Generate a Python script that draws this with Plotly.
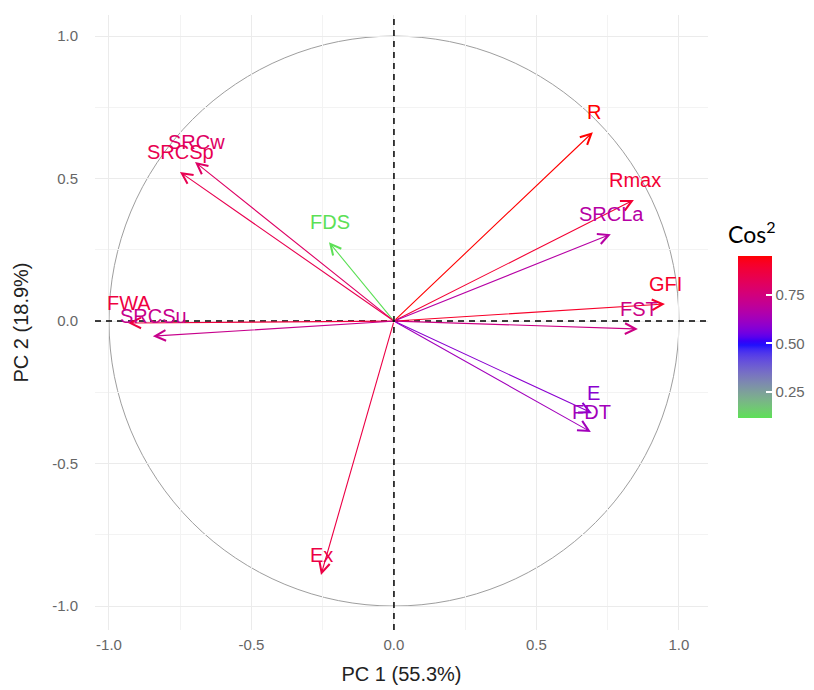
import plotly.graph_objects as go
import numpy as np

# ---- data ----
variables = ["R", "Rmax", "SRCLa", "GFI", "FST", "E", "FDT", "Ex", "FDS", "SRCw", "SRCSp", "FWA", "SRCSu"]
pc1 = [0.698, 0.842, 0.761, 0.951, 0.856, 0.695, 0.691, -0.256, -0.228, -0.698, -0.751, -0.933, -0.846]
pc2 = [0.663, 0.425, 0.305, 0.060, -0.028, -0.323, -0.389, -0.891, 0.277, 0.558, 0.523, -0.007, -0.053]
cos2 = [0.952, 0.890, 0.672, 0.908, 0.734, 0.587, 0.628, 0.859, 0.114, 0.798, 0.838, 0.870, 0.719]
pc1_label = "PC 1 (55.3%)"
pc2_label = "PC 2 (18.9%)"
axis_ticks = [-1.0, -0.5, 0.0, 0.5, 1.0]
axis_ticktext = ["-1.0", "-0.5", "0.0", "0.5", "1.0"]
cbar_ticks = [0.25, 0.50, 0.75]

# ---- colour helpers: ggplot-like gradient2 (Lab interpolation) ----
def hex2rgb(h):
    h = h.lstrip("#")
    return [int(h[i:i + 2], 16) / 255 for i in (0, 2, 4)]

def srgb2lin(c):
    return c / 12.92 if c <= 0.04045 else ((c + 0.055) / 1.055) ** 2.4

def lin2srgb(c):
    c = max(0.0, min(1.0, c))
    return 12.92 * c if c <= 0.0031308 else 1.055 * c ** (1 / 2.4) - 0.055

WHITE = (0.95047, 1.0, 1.08883)

def rgb2lab(rgb):
    r, g, b = [srgb2lin(c) for c in rgb]
    X = 0.4124564 * r + 0.3575761 * g + 0.1804375 * b
    Y = 0.2126729 * r + 0.7151522 * g + 0.0721750 * b
    Z = 0.0193339 * r + 0.1191920 * g + 0.9503041 * b
    def f(t):
        return t ** (1 / 3) if t > 216 / 24389 else (24389 / 27 * t + 16) / 116
    fx, fy, fz = f(X / WHITE[0]), f(Y / WHITE[1]), f(Z / WHITE[2])
    return (116 * fy - 16, 500 * (fx - fy), 200 * (fy - fz))

def lab2rgb(lab):
    L, a, b = lab
    fy = (L + 16) / 116
    fx = fy + a / 500
    fz = fy - b / 200
    def finv(t):
        return t ** 3 if t ** 3 > 216 / 24389 else (116 * t - 16) / (24389 / 27)
    X, Y, Z = finv(fx) * WHITE[0], finv(fy) * WHITE[1], finv(fz) * WHITE[2]
    r = 3.2404542 * X - 1.5371385 * Y - 0.4985314 * Z
    g = -0.9692660 * X + 1.8760108 * Y + 0.0415560 * Z
    bb = 0.0556434 * X - 0.2040259 * Y + 1.0572252 * Z
    return [lin2srgb(c) for c in (r, g, bb)]

LOW, MID, HIGH = rgb2lab(hex2rgb("#00FF00")), rgb2lab(hex2rgb("#0000FF")), rgb2lab(hex2rgb("#FF0000"))
vmin, vmax, vmid = min(cos2), max(cos2), 0.5
half = max(abs(vmax - vmid), abs(vmin - vmid))

def colour_of(v):
    t = (v - vmid) / half / 2 + 0.5
    if t <= 0.5:
        s = t / 0.5
        lab = [LOW[i] + (MID[i] - LOW[i]) * s for i in range(3)]
    else:
        s = (t - 0.5) / 0.5
        lab = [MID[i] + (HIGH[i] - MID[i]) * s for i in range(3)]
    r, g, b = lab2rgb(lab)
    return "rgb(%d,%d,%d)" % (round(r * 255), round(g * 255), round(b * 255))

colours = [colour_of(v) for v in cos2]
stops = np.linspace(0, 1, 41)
colorscale = [[float(s), colour_of(vmin + s * (vmax - vmin))] for s in stops]

# ---- layout geometry ----
L, R_, T, B = 95, 106, 15, 60
W, H = 814, 690
PW, PH = W - L - R_, H - T - B
def px2paper_x(px):
    return (px - L) / PW
def px2paper_y(py):
    return (H - B - py) / PH

fig = go.Figure()

# colourbar carrier trace (invisible markers)
fig.add_trace(go.Scatter(
    x=pc1, y=pc2, mode="markers",
    marker=dict(size=0.1, opacity=0, color=cos2, colorscale=colorscale,
                cmin=vmin, cmax=vmax, showscale=True,
                colorbar=dict(
                    x=px2paper_x(738), xanchor="left", xpad=0, ypad=0,
                    y=px2paper_y(337), yanchor="middle",
                    lenmode="pixels", len=162, thickness=34,
                    outlinewidth=0,
                    tickvals=cbar_ticks, ticktext=["%.2f" % v for v in cbar_ticks],
                    ticks="inside", ticklen=6, tickcolor="white", tickwidth=1.5,
                    tickfont=dict(family="Liberation Sans, Arial", size=15, color="#666666"),
                )),
    hoverinfo="skip", showlegend=False))

annotations = []
for name, x, y, c in zip(variables, pc1, pc2, colours):
    annotations.append(dict(
        x=x, y=y, ax=0, ay=0, xref="x", yref="y", axref="x", ayref="y",
        text="", showarrow=True, arrowhead=5, arrowsize=1.9, arrowwidth=1.1,
        arrowcolor=c, standoff=0))
    annotations.append(dict(
        x=x, y=y, xref="x", yref="y", text=name, showarrow=False,
        yshift=20, xshift=1, xanchor="center", yanchor="middle",
        font=dict(family="Liberation Sans, Arial", size=20, color=c)))

annotations.append(dict(
    x=px2paper_x(726), y=px2paper_y(232), xref="paper", yref="paper",
    text="Cos<sup>2</sup>", showarrow=False, xanchor="left", yanchor="middle",
    font=dict(family="Lato, Open Sans", size=23, color="black")))

shapes = [
    dict(type="circle", xref="x", yref="y", x0=-1, y0=-1, x1=1, y1=1,
         line=dict(color="#9e9e9e", width=1), layer="below"),
    dict(type="line", xref="paper", yref="y", x0=0, x1=1, y0=0, y1=0,
         line=dict(color="black", width=1.5, dash="6px,5px")),
    dict(type="line", xref="x", yref="paper", x0=0, x1=0, y0=0, y1=1,
         line=dict(color="black", width=1.5, dash="6px,5px")),
]

axis_common = dict(
    showgrid=True, gridcolor="#EBEBEB", gridwidth=1.2, zeroline=False,
    showline=False, ticks="",
    tickmode="array", tickvals=axis_ticks, ticktext=axis_ticktext,
    tickfont=dict(family="Liberation Sans, Arial", size=15, color="#666666"),
    minor=dict(tickmode="array", tickvals=[-0.75, -0.25, 0.25, 0.75],
               showgrid=True, gridcolor="#F3F3F3", gridwidth=0.8),
)

fig.update_layout(
    width=W, height=H,
    margin=dict(l=L, r=R_, t=T, b=B, pad=0, autoexpand=False),
    paper_bgcolor="white", plot_bgcolor="white",
    xaxis=dict(range=[-1.049, 1.102], ticklabelstandoff=4,
               title=dict(text=pc1_label, standoff=14,
                          font=dict(family="Liberation Sans, Arial", size=20, color="#222222")),
               **axis_common),
    yaxis=dict(range=[-1.084, 1.074], ticklabelstandoff=16,
               title=dict(text=pc2_label, standoff=18,
                          font=dict(family="Liberation Sans, Arial", size=20, color="#222222")),
               **axis_common),
    annotations=annotations, shapes=shapes, showlegend=False,
)

fig.write_html("out.html")
